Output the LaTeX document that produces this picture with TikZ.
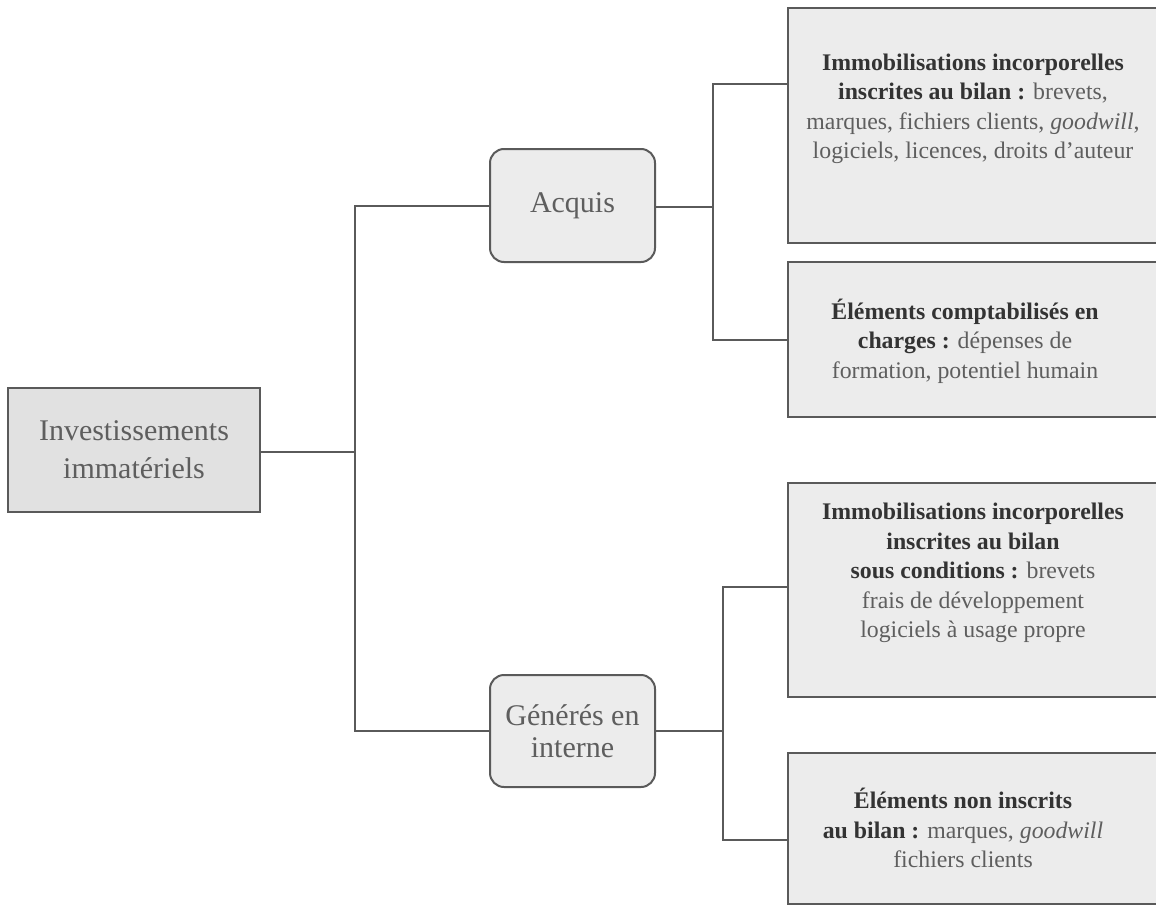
\documentclass[tikz,border=0pt]{standalone}
\usepackage{fontspec}
\setmainfont{Liberation Serif}
\usetikzlibrary{calc}
\definecolor{edgegray}{HTML}{5A5A5A}
\definecolor{rootfill}{HTML}{E1E1E1}
\definecolor{boxfill}{HTML}{ECECEC}
\definecolor{headtext}{HTML}{333333}
\definecolor{bodytext}{HTML}{5E5E5E}
\newcommand{\hd}[1]{{\bfseries\color{headtext}#1}}
\begin{document}
\begin{tikzpicture}[x=1pt,y=-1pt,
  frame/.style={draw=edgegray,line width=2pt,inner sep=0pt},
  rootbox/.style={frame,fill=rootfill,minimum width=252pt,minimum height=124pt,
    align=center,text=bodytext,font=\fontsize{30}{38}\selectfont},
  catbox/.style={frame,fill=boxfill,rounded corners=14pt,minimum width=165pt,
    minimum height=113pt,align=center,text=bodytext,font=\fontsize{30}{32}\selectfont},
  itembox/.style={frame,fill=boxfill,minimum width=420pt},
  itemtext/.style={align=center,text=bodytext,inner sep=0pt,
    font=\fontsize{23.8}{29.5}\selectfont},
  link/.style={draw=edgegray,line width=2pt}]
\useasboundingbox (0,0) rectangle (1156,907);
\clip (0,0) rectangle (1156,907);

% first level
\node[rootbox] (root) at (134,450) {Investissements\\immatériels};

% second level
\node[catbox] (acq) at (572.5,205.5) {Acquis};
\node[catbox,minimum height=112pt] (gen) at (572.5,731) {Générés en\\interne};

% third level boxes, running off the right edge
\node[itembox,minimum height=235pt] (b1) at (998,125.5) {};
\node[itembox,minimum height=155pt] (b2) at (998,339.5) {};
\node[itembox,minimum height=214pt] (b3) at (998,590) {};
\node[itembox,minimum height=151pt] (b4) at (998,828.5) {};

\node[itemtext] (t1) at (973,109) {\hd{Immobilisations incorporelles}\\
  \hd{inscrites au bilan :} brevets,\\
  marques, fichiers clients, \textit{goodwill},\\
  logiciels, licences, droits d’auteur};
\node[itemtext] (t2) at (965,341) {\hd{Éléments comptabilisés en}\\
  \hd{charges :} dépenses de\\
  formation, potentiel humain};
\node[itemtext] (t3) at (973,573) {\hd{Immobilisations incorporelles}\\
  \hd{inscrites au bilan}\\
  \hd{sous conditions :} brevets\\
  frais de développement\\
  logiciels à usage propre};
\node[itemtext] (t4) at (963,828) {\hd{Éléments non inscrits}\\
  \hd{au bilan :} marques, \textit{goodwill}\\
  fichiers clients};

% junctions
\coordinate (j1) at (355,452);
\coordinate (j2) at (713,207);
\coordinate (j3) at (723,731);

% connectors
\draw[link] (root.east |- j1) -- (j1);
\draw[link] (j1) |- (acq.west);
\draw[link] (j1) |- (gen.west);
\draw[link] (acq.east |- j2) -- (j2);
\draw[link] (j2) |- ($(b1.north west)!0.323!(b1.south west)$);
\draw[link] (j2) |- (b2.west);
\draw[link] (gen.east) -- (j3);
\draw[link] (j3) |- ($(b3.north west)!0.486!(b3.south west)$);
\draw[link] (j3) |- ($(b4.north west)!0.576!(b4.south west)$);
\end{tikzpicture}
\end{document}
